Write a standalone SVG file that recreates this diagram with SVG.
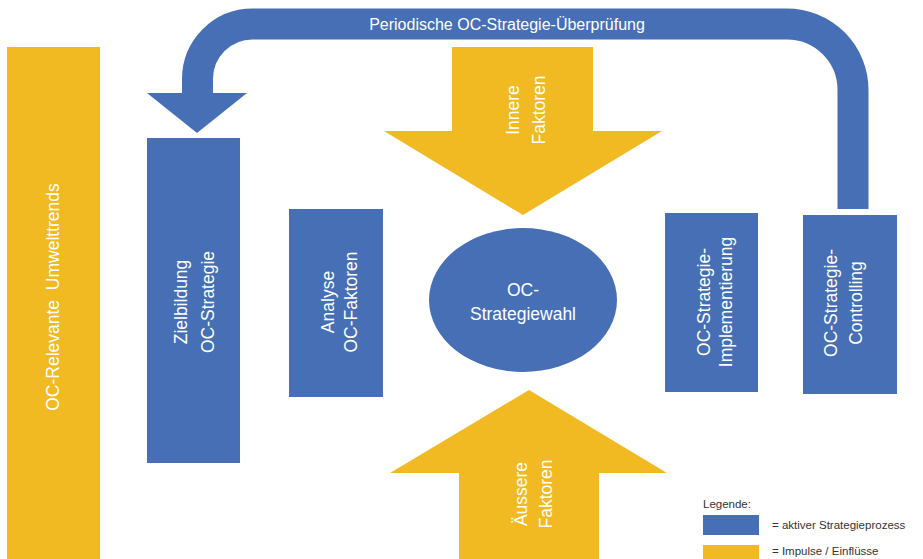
<svg xmlns="http://www.w3.org/2000/svg" width="923" height="559" viewBox="0 0 923 559">
<style>
.blue{fill:#466FB6}
.yellow{fill:#F1BA22}
.lbl{font-family:"Liberation Sans",Arial,sans-serif;font-size:17.5px;fill:#ffffff;text-anchor:middle}
.top{font-family:"Liberation Sans",Arial,sans-serif;font-size:16px;fill:#ffffff;text-anchor:middle}
.leg{font-family:"Liberation Sans",Arial,sans-serif;font-size:11.5px;fill:#333333}
</style>
<rect width="923" height="559" fill="#ffffff"/>

<g id="connectors">
  <path d="M853,209 V90 A66,66 0 0 0 787,24 H252.5 A55,55 0 0 0 197.5,79 V94" fill="none" stroke="#466FB6" stroke-width="31"/>
  <polygon class="blue" points="147,93 247,93 197,133"/>
  <text class="top" x="507" y="29.5">Periodische OC-Strategie-Überprüfung</text>
</g>

<g id="umwelttrends">
  <rect class="yellow" x="7" y="47" width="93" height="512"/>
  <text class="lbl" font-size="17" transform="translate(53,297) rotate(-90)" y="6" xml:space="preserve">OC-Relevante  Umwelttrends</text>
</g>

<g id="zielbildung">
  <rect class="blue" x="147" y="138" width="93" height="325"/>
  <text class="lbl" transform="translate(193.5,302) rotate(-90)"><tspan x="0" y="-7">Zielbildung</tspan><tspan x="0" y="20">OC-Strategie</tspan></text>
</g>

<g id="analyse">
  <rect class="blue" x="289" y="209" width="94" height="188"/>
  <text class="lbl" transform="translate(338.5,302) rotate(-90)"><tspan x="0" y="-5">Analyse</tspan><tspan x="0" y="18">OC-Faktoren</tspan></text>
</g>

<g id="innere-faktoren">
  <polygon class="yellow" points="452,47 593,47 593,131 662,131 523,215 384,131 452,131"/>
  <text class="lbl" transform="translate(525,110) rotate(-90)"><tspan x="0" y="-6.5">Innere</tspan><tspan x="0" y="19.5">Faktoren</tspan></text>
</g>

<g id="strategiewahl">
  <ellipse class="blue" cx="523" cy="300" rx="94" ry="72"/>
  <text class="lbl" font-size="18.5"><tspan x="523" y="296">OC-</tspan><tspan x="523" y="320">Strategiewahl</tspan></text>
</g>

<g id="aeussere-faktoren">
  <polygon class="yellow" points="529,390 667,473 599,473 599,559 459,559 459,473 390,473"/>
  <text class="lbl" transform="translate(532.5,494) rotate(-90)"><tspan x="0" y="-6">Äussere</tspan><tspan x="0" y="19">Faktoren</tspan></text>
</g>

<g id="implementierung">
  <rect class="blue" x="665" y="213" width="93" height="179"/>
  <text class="lbl" transform="translate(714,302) rotate(-90)"><tspan x="0" y="-4.5">OC-Strategie-</tspan><tspan x="0" y="17.5">Implementierung</tspan></text>
</g>

<g id="controlling">
  <rect class="blue" x="803" y="215" width="94" height="179"/>
  <text class="lbl" transform="translate(842.5,303) rotate(-90)"><tspan x="0" y="-6">OC-Strategie-</tspan><tspan x="0" y="19">Controlling</tspan></text>
</g>

<g id="legende">
  <text class="leg" x="703" y="508" font-size="12">Legende:</text>
  <rect class="blue" x="703" y="515" width="56" height="20"/>
  <text class="leg" x="772" y="529">= aktiver Strategieprozess</text>
  <rect class="yellow" x="703" y="545" width="56" height="20"/>
  <text class="leg" x="772" y="555">= Impulse / Einflüsse</text>
</g>
</svg>
